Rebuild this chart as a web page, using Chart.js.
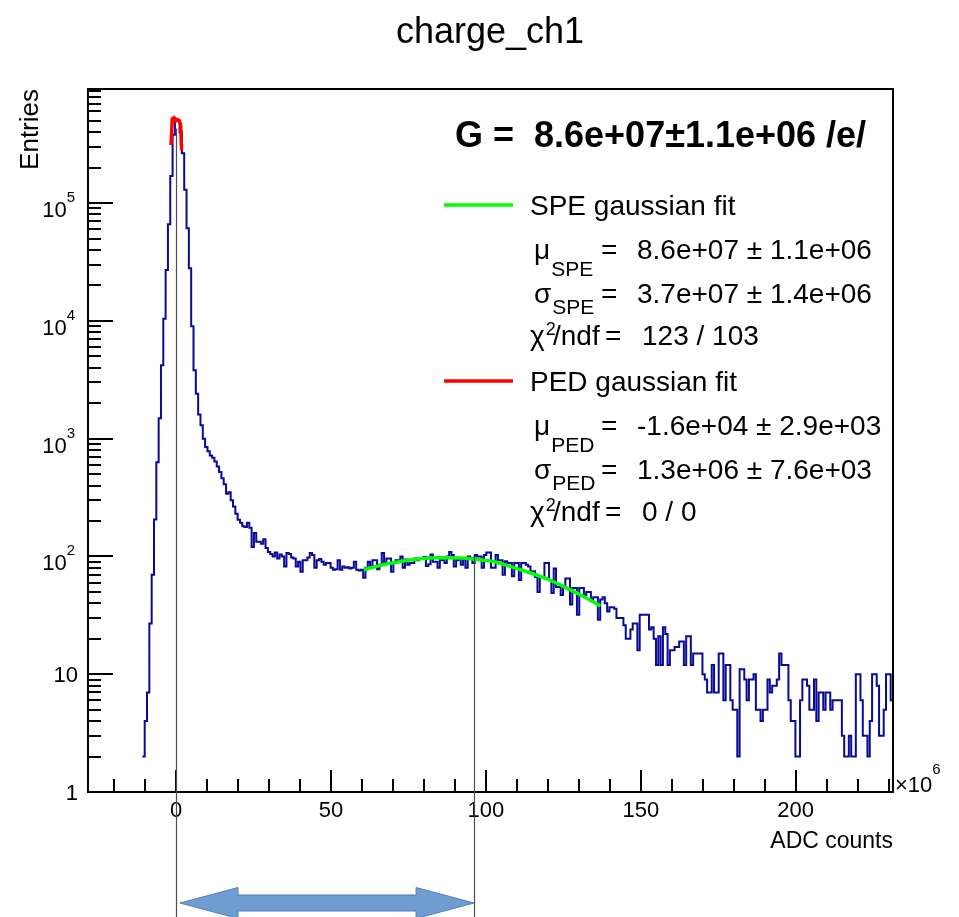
<!DOCTYPE html>
<html>
<head>
<meta charset="utf-8">
<title>charge_ch1</title>
<script src="https://cdn.jsdelivr.net/npm/chart.js@4.4.1/dist/chart.umd.min.js"></script>
<style>
  html, body { margin: 0; padding: 0; background: #fff; }
  #wrap { position: relative; width: 959px; height: 917px; }
</style>
</head>
<body>
<div id="wrap"><canvas id="chart" width="959" height="917"></canvas></div>
<script>
/* charge_ch1 : ROOT-style log histogram redrawn with Chart.js
   x values are in units of 10^6 ADC counts */

const FONT = '"Liberation Sans", Arial, Helvetica, sans-serif';

// axis ranges
const X_MIN = -28.4, X_MAX = 231.4;
const Y_MIN = 1, Y_MAX = 9.3e5;

// histogram: first filled bin low edge, bin width, entries per bin
const BIN_LO = -10.85;
const BIN_W = 0.75;
const COUNTS = [
  2, 4, 7, 27, 70, 206, 630, 1490, 4200, 10400,
  27000, 66000, 170000, 380000, 520000, 500000, 400000, 265000, 130000, 61000,
  28000, 9000, 3800, 2400, 1600, 1300, 1000, 850, 780, 720,
  690, 640, 580, 520, 460, 410, 340, 350, 300, 265,
  230, 205, 193, 180, 178, 193, 175, 120, 158, 133,
  133, 128, 140, 118, 109, 105, 100, 108, 96, 104,
  100, 82, 107, 105, 98, 96, 82, 90, 74, 93,
  93, 98, 107, 103, 80, 93, 95, 90, 85, 88,
  88, 80, 77, 78, 93, 77, 82, 80, 81, 79,
  80, 90, 77, 76, 77, 66, 80, 90, 82, 93,
  93, 78, 85, 107, 88, 96, 96, 74, 88, 93,
  93, 100, 80, 94, 85, 88, 88, 96, 93, 96,
  96, 99, 83, 86, 104, 90, 90, 80, 93, 93,
  88, 100, 109, 103, 82, 93, 97, 85, 94, 80,
  100, 97, 88, 103, 100, 100, 80, 103, 108, 108,
  80, 80, 103, 93, 93, 70, 91, 88, 88, 68,
  88, 88, 63, 88, 88, 85, 82, 75, 75, 67,
  50, 67, 67, 88, 88, 63, 49, 79, 55, 55,
  47, 55, 65, 65, 39, 54, 54, 32, 54, 54,
  47, 50, 50, 43, 45, 45, 29, 43, 45, 40,
  34, 37, 37, 36, 30, 30, 30, 26, 20, 20,
  24, 27, 27, 16, 32, 32, 32, 32, 24, 25,
  20, 12, 21, 12, 25, 22, 12, 16, 16, 17,
  17, 19, 19, 12, 21, 21, 12, 15, 15, 15,
  15, 10, 9, 7, 7, 12, 7, 7, 15, 15,
  6, 12, 12, 6, 5, 5, 2, 11, 11, 9,
  6, 9, 9, 10, 5, 5, 4, 5, 5, 9,
  7, 8, 8, 9, 15, 12, 12, 12, 6, 4,
  4, 2, 2, 6, 9, 9, 8, 5, 5, 9,
  4, 7, 7, 5, 7, 7, 5, 6, 6, 6,
  6, 3, 2, 2, 3, 2, 2, 10, 10, 6,
  3, 3, 2, 4, 10, 10, 8, 3, 3, 5,
  10, 10, 6
];

// fit curves
const PED_FIT_X = [-1.6, -1.2, -0.6, 0, 0.5, 1.1, 1.5, 1.8];
const PED_FIT_Y = [310000, 520000, 530000, 500000, 510000, 500000, 460000, 280000];
const SPE_FIT_X = [60.5, 66, 72, 78, 84, 90, 96, 102, 108, 114, 120, 126, 132, 137];
const SPE_FIT_Y = [77, 84, 90, 95, 97.5, 97.5, 95, 91, 82, 73, 64, 54, 45, 38];

// y tick label decades
const Y_DECADES = [0, 1, 2, 3, 4, 5];

// vertical marker lines (x, top value) and the arrow between them
const MARKER_X = [0, 96.2];
const MARKER_TOP = [430000, 98];

// legend text
const GAIN_LABEL = 'G =  8.6e+07\u00b11.1e+06 /e/';
const FIT_NAMES = ['SPE gaussian fit', 'PED gaussian fit'];
const FIT_COLORS = ['#00ff00', '#ff0000'];
const FIT_SUBS = ['SPE', 'PED'];
const FIT_MU = ['8.6e+07 \u00b1 1.1e+06', '-1.6e+04 \u00b1 2.9e+03'];
const FIT_SIGMA = ['3.7e+07 \u00b1 1.4e+06', '1.3e+06 \u00b1 7.6e+03'];
const FIT_CHI2 = ['123 / 103', '0 / 0'];
const LEGEND_Y = [205, 381];

// step points: one empty bin in front, closing point at the last high edge
const histPoints = [{ x: BIN_LO - BIN_W, y: 0 }];
COUNTS.forEach((c, i) => histPoints.push({ x: BIN_LO + i * BIN_W, y: c }));
histPoints.push({ x: BIN_LO + COUNTS.length * BIN_W, y: COUNTS[COUNTS.length - 1] });

const pedPoints = PED_FIT_X.map((x, i) => ({ x: x, y: PED_FIT_Y[i] }));
const spePoints = SPE_FIT_X.map((x, i) => ({ x: x, y: SPE_FIT_Y[i] }));

function paramLine(ctx, sym, sub, val, base, subDrop) {
  ctx.font = '28px ' + FONT;
  ctx.fillText(sym, 534, base);
  const w = ctx.measureText(sym).width;
  ctx.font = '21px ' + FONT;
  ctx.fillText(sub, 534 + w + 1, base + subDrop);
  ctx.font = '28px ' + FONT;
  ctx.fillText('=', 601, base);
  ctx.fillText(val, 637, base);
}

// frame, inward ticks, log labels, title, legend, markers
const rootStyle = {
  id: 'rootStyle',
  afterDraw(chart) {
    const { ctx, chartArea: a, scales } = chart;
    const x = scales.x, y = scales.y;
    ctx.save();

    // ticks
    ctx.strokeStyle = '#000';
    ctx.lineWidth = 2;
    ctx.beginPath();
    for (let v = -20; v <= 230; v += 10) {
      const px = Math.round(x.getPixelForValue(v));
      const len = v % 50 === 0 ? 22 : 13;
      ctx.moveTo(px, a.bottom);
      ctx.lineTo(px, a.bottom - len);
    }
    for (let d = 1; d <= Y_MAX; d *= 10) {
      for (let m = 1; m <= 9; m++) {
        const v = d * m;
        if (v > Y_MAX) break;
        const py = Math.round(y.getPixelForValue(v));
        ctx.moveTo(a.left, py);
        ctx.lineTo(a.left + (m === 1 ? 25 : 13), py);
      }
    }
    ctx.stroke();

    // frame
    ctx.lineWidth = 2;
    ctx.strokeRect(a.left, a.top, a.right - a.left, a.bottom - a.top);

    // y labels in ROOT style: 1, 10, 10^n
    ctx.fillStyle = '#000';
    ctx.textBaseline = 'alphabetic';
    ctx.textAlign = 'right';
    Y_DECADES.forEach((e) => {
      const py = y.getPixelForValue(Math.pow(10, e));
      if (e < 2) {
        ctx.font = '22px ' + FONT;
        ctx.fillText(e === 0 ? '1' : '10', a.left - 10, py + 8);
      } else {
        ctx.font = '15px ' + FONT;
        ctx.fillText(String(e), a.left - 13, py - 1);
        const we = ctx.measureText(String(e)).width;
        ctx.font = '22px ' + FONT;
        ctx.fillText('10', a.left - 13 - we, py + 14);
      }
    });

    // axis multiplier
    ctx.textAlign = 'left';
    ctx.font = '22px ' + FONT;
    ctx.fillText('\u00d710', a.right + 2, a.bottom);
    const wm = ctx.measureText('\u00d710').width;
    ctx.font = '15px ' + FONT;
    ctx.fillText('6', a.right + 2 + wm, a.bottom - 18);

    // title
    ctx.font = '36px ' + FONT;
    ctx.textAlign = 'center';
    ctx.fillText('charge_ch1', 490, 43);

    // legend
    ctx.textAlign = 'left';
    ctx.font = 'bold 36px ' + FONT;
    ctx.fillText(GAIN_LABEL, 455, 147);
    FIT_NAMES.forEach((name, i) => {
      const y0 = LEGEND_Y[i];
      ctx.strokeStyle = FIT_COLORS[i];
      ctx.lineWidth = 3.5;
      ctx.beginPath();
      ctx.moveTo(444, y0);
      ctx.lineTo(513, y0);
      ctx.stroke();
      ctx.font = '28px ' + FONT;
      ctx.fillText(name, 530, y0 + 10);
      paramLine(ctx, '\u03bc', FIT_SUBS[i], FIT_MU[i], y0 + 54, 17);
      paramLine(ctx, '\u03c3', FIT_SUBS[i], FIT_SIGMA[i], y0 + 97.5, 11);
      const cb = y0 + 140;
      ctx.font = '28px ' + FONT;
      ctx.fillText('\u03c7', 530, cb);
      const wc = ctx.measureText('\u03c7').width;
      ctx.font = '18px ' + FONT;
      ctx.fillText('2', 530 + wc + 1, cb - 10);
      ctx.font = '28px ' + FONT;
      ctx.fillText('/ndf', 553, cb);
      ctx.fillText('=', 605, cb);
      ctx.fillText(FIT_CHI2[i], 642, cb);
    });

    // marker lines down past the axis
    ctx.strokeStyle = '#4d4d4d';
    ctx.lineWidth = 1.2;
    ctx.beginPath();
    MARKER_X.forEach((mx, i) => {
      const px = Math.round(x.getPixelForValue(mx)) + 0.5;
      ctx.moveTo(px, y.getPixelForValue(MARKER_TOP[i]));
      ctx.lineTo(px, chart.height);
    });
    ctx.stroke();

    // double arrow between the markers
    const xl = x.getPixelForValue(MARKER_X[0]) + 4;
    const xr = x.getPixelForValue(MARKER_X[1]);
    const cy = a.bottom + 111;
    const head = 58, hh = 15.5, sh = 8;
    ctx.beginPath();
    ctx.moveTo(xl, cy);
    ctx.lineTo(xl + head, cy - hh);
    ctx.lineTo(xl + head, cy - sh);
    ctx.lineTo(xr - head, cy - sh);
    ctx.lineTo(xr - head, cy - hh);
    ctx.lineTo(xr, cy);
    ctx.lineTo(xr - head, cy + hh);
    ctx.lineTo(xr - head, cy + sh);
    ctx.lineTo(xl + head, cy + sh);
    ctx.lineTo(xl + head, cy + hh);
    ctx.closePath();
    ctx.fillStyle = '#6f9cd1';
    ctx.fill();
    ctx.strokeStyle = '#4f7fbf';
    ctx.lineWidth = 1;
    ctx.stroke();

    ctx.restore();
  }
};

Chart.defaults.font.family = FONT;
Chart.defaults.color = '#000';

new Chart(document.getElementById('chart'), {
  type: 'line',
  data: {
    datasets: [
      {
        label: 'PED gaussian fit',
        data: pedPoints,
        borderColor: '#ff0000',
        borderWidth: 3.5,
        pointRadius: 0,
        tension: 0
      },
      {
        label: 'SPE gaussian fit',
        data: spePoints,
        borderColor: '#00ff00',
        borderWidth: 3.5,
        pointRadius: 0,
        cubicInterpolationMode: 'monotone'
      },
      {
        label: 'charge_ch1',
        data: histPoints,
        borderColor: '#0a0a99',
        borderWidth: 2,
        pointRadius: 0,
        stepped: 'before'
      }
    ]
  },
  options: {
    responsive: false,
    animation: false,
    events: [],
    layout: { padding: { top: 89, right: 66, left: 0, bottom: 0 } },
    plugins: {
      legend: { display: false },
      title: { display: false },
      tooltip: { enabled: false }
    },
    scales: {
      x: {
        type: 'linear',
        min: X_MIN,
        max: X_MAX,
        afterFit: (s) => { s.height = 125; },
        grid: { display: false },
        border: { display: false },
        ticks: {
          stepSize: 50,
          includeBounds: false,
          autoSkip: false,
          maxRotation: 0,
          padding: -2,
          color: '#000',
          font: { size: 22 }
        },
        title: {
          display: true,
          text: 'ADC counts',
          align: 'end',
          color: '#000',
          font: { size: 23 },
          padding: { top: 0, bottom: 62 }
        }
      },
      y: {
        type: 'logarithmic',
        min: Y_MIN,
        max: Y_MAX,
        afterFit: (s) => { s.width = 88; },
        grid: { display: false },
        border: { display: false },
        ticks: { display: false },
        title: {
          display: true,
          text: 'Entries',
          align: 'end',
          color: '#000',
          font: { size: 26 },
          padding: { top: 15, bottom: 0 }
        }
      }
    }
  },
  plugins: [rootStyle]
});
</script>
</body>
</html>
